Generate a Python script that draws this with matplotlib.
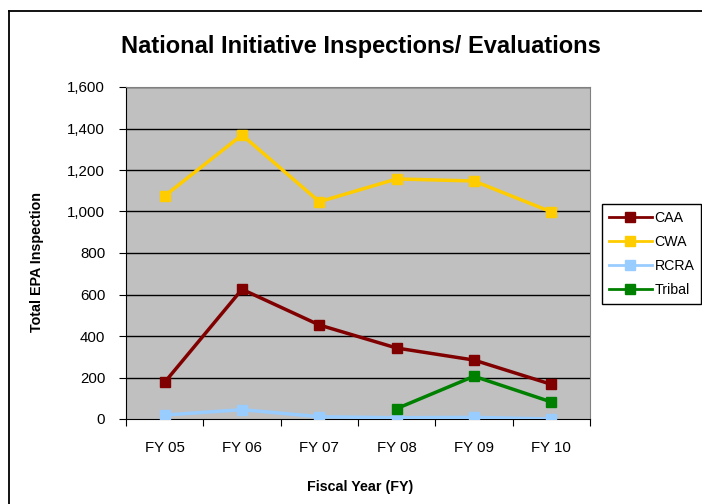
import matplotlib
matplotlib.use("Agg")
import matplotlib.pyplot as plt
from matplotlib.lines import Line2D
import numpy as np

plt.rcParams['font.family'] = ['Liberation Sans', 'DejaVu Sans']

categories = ["FY 05", "FY 06", "FY 07", "FY 08", "FY 09", "FY 10"]
caa = [177, 625, 453, 342, 284, 167]
cwa = [1075, 1369, 1047, 1157, 1147, 998]
rcra = [19, 45, 11, 6, 8, 0]
tribal_cats = ["FY 08", "FY 09", "FY 10"]
tribal = [50, 206, 82]
yticks = [0, 200, 400, 600, 800, 1000, 1200, 1400, 1600]

W, H = 702, 504
fig = plt.figure(figsize=(W/100, H/100), dpi=100)
fig.lines.append(Line2D([9/W, 9/W], [0, 1 - 11/H], transform=fig.transFigure, color='black', lw=1.3))
fig.lines.append(Line2D([9/W, 1], [1 - 11/H, 1 - 11/H], transform=fig.transFigure, color='black', lw=1.3))

ax = fig.add_axes([126/W, 1 - 419/H, (590-126)/W, (419-87)/H])
ax.set_facecolor('#C0C0C0')

x = np.arange(len(categories)) + 0.5
xt = np.array([categories.index(c) for c in tribal_cats]) + 0.5

ms = 7
ax.plot(x, caa, color='#800000', marker='s', ms=ms, lw=2.5, label='CAA', zorder=3)
ax.plot(x, cwa, color='#FFCC00', marker='s', ms=ms, lw=2.5, label='CWA', zorder=3)
ax.plot(x, rcra, color='#99CCFF', marker='s', ms=ms, lw=2.5, label='RCRA', zorder=3)
ax.plot(xt, tribal, color='#008000', marker='s', ms=ms, lw=2.5, label='Tribal', zorder=3)

ax.set_xlim(0, len(categories))
ax.set_ylim(0, 1600)
ax.set_yticks(yticks)
ax.set_yticklabels([f"{v:,}" for v in yticks], fontsize=10.8)
ax.set_xticks(np.arange(len(categories) + 1))
ax.set_xticklabels([])
ax.set_xticks(x, minor=True)
ax.set_xticklabels(categories, minor=True, fontsize=10.8)
ax.tick_params(axis='x', which='minor', length=0, pad=16)
ax.tick_params(axis='x', which='major', length=5, direction='out', color='black')
ax.tick_params(axis='y', length=5, direction='out', pad=10)

for v in yticks[1:]:
    ax.axhline(v, color='black', lw=1, zorder=1)

for side in ['top', 'right']:
    ax.spines[side].set_color('#808080')
ax.spines['left'].set_color('black')
ax.spines['bottom'].set_color('black')

fig.text(361/W, 1 - 46/H, "National Initiative Inspections/ Evaluations", ha='center', va='center',
         fontsize=17, fontweight='bold')
fig.text(360/W, 1 - 487/H, "Fiscal Year (FY)", ha='center', va='center', fontsize=10.3, fontweight='bold')
fig.text(37/W, 1 - 262/H, "Total EPA Inspection", ha='center', va='center', rotation=90,
         fontsize=10.3, fontweight='bold')

leg = ax.legend(loc='upper left', bbox_to_anchor=(602/W, 1 - 204/H), bbox_transform=fig.transFigure,
                fontsize=10.2, frameon=True, fancybox=False, edgecolor='black', framealpha=1,
                borderpad=0.5, labelspacing=0.7, handlelength=3.0, handletextpad=0.2,
                borderaxespad=0)
leg.get_frame().set_linewidth(1)
for h in leg.get_lines():
    h.set_linewidth(2)

fig.savefig("out.png", dpi=100)
